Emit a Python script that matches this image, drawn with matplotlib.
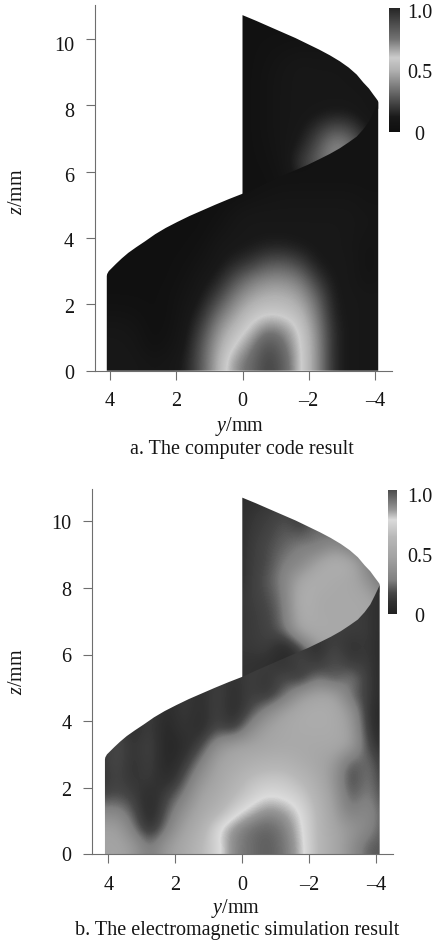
import numpy as np
import matplotlib
matplotlib.use('Agg')
import matplotlib.pyplot as plt
from matplotlib.colors import LinearSegmentedColormap
from matplotlib.patches import Polygon
from matplotlib.transforms import ScaledTranslation

plt.rcParams['font.family'] = ['Liberation Serif', 'DejaVu Serif']
plt.rcParams['mathtext.fontset'] = 'custom'
plt.rcParams['mathtext.rm'] = 'Liberation Serif'
plt.rcParams['mathtext.it'] = 'Liberation Serif:italic'

W, H = 433, 944
FS = 14.5
AXC = '#6e6e6e'
TXT = '#151515'

y_ticks = [4, 2, 0, -2, -4]
y_labels = ['4', '2', '0', '\u20132', '\u20134']
z_ticks = [0, 2, 4, 6, 8, 10]

# outline of the two sheets (mm)
edge_y = [4.1, 4.09, 4.04, 3.95, 3.82, 3.65, 3.45, 3.21, 2.94, 2.64, 2.32, 1.97, 1.6, 1.21, 0.82, 0.41, 0.0,
          -0.41, -0.82, -1.21, -1.6, -1.97, -2.32, -2.64, -2.94, -3.21, -3.45, -3.65, -3.82, -3.95, -4.04, -4.09, -4.1]
edge_z = [2.85, 2.91, 3.0, 3.09, 3.22, 3.38, 3.55, 3.72, 3.90, 4.11, 4.30, 4.48, 4.66, 4.83, 5.0, 5.17, 5.33,
          5.52, 5.70, 5.87, 6.04, 6.2, 6.37, 6.53, 6.7, 6.88, 7.05, 7.27, 7.5, 7.76, 7.95, 8.06, 8.1]
back_y = [0.0, -0.41, -0.82, -1.21, -1.6, -1.97, -2.32, -2.64, -2.94, -3.21, -3.45, -3.65, -3.82, -3.95, -4.04, -4.09, -4.1]
back_z = [10.71, 10.54, 10.36, 10.19, 10.02, 9.84, 9.67, 9.5, 9.32, 9.13, 8.92, 8.68, 8.5, 8.32, 8.2, 8.13, 8.1]

# colour bars: position on the bar, grey level
cbar_a_pos = [0, 0.12, 0.25, 0.5, 0.6, 0.75, 1.0]
cbar_a_gray = [0.06, 0.10, 0.30, 0.70, 0.80, 0.45, 0.15]
cbar_b_pos = [0, 0.10, 0.17, 0.27, 0.46, 0.62, 0.76, 0.84, 1.0]
cbar_b_gray = [0.13, 0.20, 0.28, 0.50, 0.64, 0.72, 0.86, 0.60, 0.30]

# front sheet: columns y = 4.25 ... -4.25, rows z = 0.25 ... 8.25
front_a = [
    [.10, .10, .10, .08, .09, .13, .28, .50, .70, .78, .92, .82, .60, .42, .15, .11, .10, .10],
    [.10, .10, .09, .03, .06, .11, .27, .47, .60, .72, .88, .77, .60, .42, .15, .11, .10, .10],
    [.09, .09, .07, .02, .04, .10, .22, .42, .53, .62, .75, .70, .58, .40, .15, .11, .10, .10],
    [.05, .05, .04, .02, .03, .09, .16, .33, .45, .55, .58, .57, .52, .36, .13, .11, .10, .10],
    [.02, .02, .02, .02, .03, .07, .12, .22, .37, .46, .50, .50, .45, .30, .12, .11, .10, .10],
    [.02, .02, .02, .02, .02, .05, .10, .14, .26, .36, .41, .41, .36, .20, .11, .11, .06, .09],
    [.02, .02, .02, .02, .02, .03, .07, .11, .15, .20, .27, .28, .22, .12, .11, .11, .05, .09],
    [.02, .02, .02, .02, .02, .02, .04, .10, .11, .12, .14, .14, .12, .11, .11, .10, .06, .08],
    [.02, .02, .02, .02, .02, .02, .02, .06, .10, .11, .11, .11, .11, .11, .11, .10, .08, .08],
    [.02, .02, .02, .02, .02, .02, .02, .03, .08, .10, .10, .10, .10, .10, .10, .10, .08, .08],
    [.02, .02, .02, .02, .02, .02, .02, .02, .03, .05, .07, .08, .08, .08, .08, .08, .06, .06],
    [.02, .02, .02, .02, .02, .02, .02, .02, .02, .03, .04, .05, .05, .05, .05, .05, .05, .05],
    [.02, .02, .02, .02, .02, .02, .02, .02, .02, .03, .03, .04, .04, .05, .05, .05, .05, .05],
    [.02, .02, .02, .02, .02, .02, .02, .02, .02, .03, .03, .03, .04, .04, .05, .05, .05, .05],
    [.02, .02, .02, .02, .02, .02, .02, .02, .02, .03, .03, .03, .03, .04, .04, .05, .05, .05],
    [.02, .02, .02, .02, .02, .02, .02, .02, .02, .03, .03, .03, .03, .04, .04, .05, .05, .05],
    [.02, .02, .02, .02, .02, .02, .02, .02, .02, .03, .03, .03, .03, .04, .04, .05, .05, .05],
]
front_b = [
    [.45, .48, .42, .24, .42, .50, .62, .72, .88, .93, .97, .92, .80, .62, .50, .36, .20, .20],
    [.45, .46, .27, .06, .27, .46, .55, .76, .86, .93, .96, .90, .78, .62, .48, .40, .32, .18],
    [.30, .33, .20, .03, .20, .38, .50, .58, .72, .80, .87, .84, .76, .62, .44, .26, .35, .18],
    [.15, .18, .15, .05, .15, .27, .46, .52, .62, .70, .76, .74, .70, .58, .42, .18, .30, .15],
    [.08, .17, .09, .14, .04, .18, .38, .48, .56, .65, .68, .68, .62, .53, .38, .14, .28, .12],
    [.10, .19, .08, .16, .02, .10, .27, .46, .50, .55, .58, .58, .53, .48, .42, .18, .26, .10],
    [.08, .20, .09, .17, .02, .06, .14, .36, .46, .46, .48, .50, .50, .50, .50, .46, .16, .06],
    [.10, .17, .06, .15, .02, .12, .05, .18, .10, .34, .46, .50, .52, .52, .52, .44, .12, .02],
    [.10, .17, .08, .16, .04, .14, .06, .16, .06, .17, .33, .46, .52, .54, .52, .40, .10, .01],
    [.10, .15, .10, .16, .06, .14, .07, .16, .07, .15, .10, .22, .42, .48, .48, .22, .14, .03],
    [.10, .15, .10, .16, .06, .14, .07, .15, .08, .15, .10, .19, .10, .27, .16, .29, .13, .04],
    [.12, .15, .15, .13, .10, .13, .15, .13, .13, .13, .14, .07, .18, .10, .21, .11, .14, .03],
    [.12, .15, .15, .13, .10, .13, .15, .13, .13, .13, .13, .14, .13, .07, .16, .08, .13, .03],
    [.12, .15, .15, .13, .10, .13, .15, .13, .13, .13, .13, .13, .14, .13, .14, .14, .13, .05],
    [.12, .15, .15, .13, .10, .13, .15, .13, .13, .13, .13, .13, .13, .13, .14, .13, .12, .05],
    [.12, .15, .15, .13, .10, .13, .15, .13, .13, .13, .13, .13, .13, .13, .13, .13, .12, .06],
    [.12, .15, .15, .13, .10, .13, .15, .13, .13, .13, .13, .13, .13, .13, .13, .13, .12, .06],
]

# back sheet: columns y = 0.25 ... -4.25, rows z = 5.25 ... 10.75
back_a = [
    [.03, .03, .03, .05, .08, .12, .16, .18, .12, .08],
    [.03, .03, .03, .06, .14, .22, .32, .36, .24, .08],
    [.03, .03, .04, .08, .20, .30, .38, .36, .22, .08],
    [.03, .03, .05, .09, .14, .26, .42, .36, .18, .08],
    [.03, .03, .06, .09, .11, .19, .28, .25, .12, .08],
    [.03, .03, .06, .09, .10, .11, .13, .12, .09, .08],
    [.03, .03, .06, .09, .10, .10, .10, .10, .09, .08],
    [.03, .03, .06, .09, .10, .10, .10, .09, .08, .08],
    [.03, .03, .05, .08, .10, .09, .09, .08, .08, .08],
    [.03, .03, .04, .05, .06, .06, .06, .06, .06, .06],
    [.03, .03, .03, .03, .03, .03, .04, .05, .05, .05],
    [.03, .03, .03, .03, .03, .03, .03, .03, .03, .03],
]
back_b = [
    [.10, .10, .08, .05, .06, .10, .20, .30, .20, .10],
    [.10, .10, .08, .04, .08, .20, .40, .50, .30, .12],
    [.12, .12, .15, .03, .18, .44, .50, .50, .40, .20],
    [.10, .13, .15, .24, .50, .52, .50, .50, .48, .30],
    [.10, .13, .16, .25, .56, .50, .50, .50, .50, .45],
    [.10, .14, .18, .27, .58, .50, .50, .50, .48, .30],
    [.06, .14, .20, .30, .50, .56, .50, .50, .36, .18],
    [.06, .14, .17, .28, .30, .48, .58, .52, .27, .11],
    [.06, .13, .18, .22, .29, .24, .36, .23, .18, .08],
    [.06, .12, .15, .21, .15, .27, .17, .20, .08, .06],
    [.06, .11, .13, .17, .12, .18, .10, .12, .06, .06],
    [.06, .07, .10, .10, .10, .10, .10, .08, .06, .06],
]


def px_text(x, y, s, **kw):
    # position in pixels of the image, from the top left
    return fig.text(x / W, 1 - y / H, s, ha='center', va='center', fontsize=FS, color=TXT, **kw)


def draw_panel(left, right, top, bottom, y0_px, y_scale, z_scale, front, back, cmap, z_shift):
    ax = fig.add_axes([left / W, 1 - bottom / H, (right - left) / W, (bottom - top) / H])

    # back sheet first, its lower edge runs under the front sheet
    im = ax.imshow(np.array(back), origin='lower', extent=[0.5, -4.5, 5, 11], aspect='auto', cmap=cmap,
                   vmin=0, vmax=1, interpolation='bicubic', interpolation_stage='data')
    under = [(y, z - 0.2) for y, z in zip(edge_y[::-1], edge_z[::-1]) if y <= 0]
    poly = Polygon(list(zip(back_y, back_z)) + under, closed=True, transform=ax.transData, fc='none', ec='none')
    ax.add_patch(poly)
    im.set_clip_path(poly)

    im = ax.imshow(np.array(front), origin='lower', extent=[4.5, -4.5, 0, 8.5], aspect='auto', cmap=cmap,
                   vmin=0, vmax=1, interpolation='bicubic', interpolation_stage='data')
    poly = Polygon([(edge_y[0], 0)] + list(zip(edge_y, edge_z)) + [(edge_y[-1], 0)],
                   closed=True, transform=ax.transData, fc='none', ec='none')
    ax.add_patch(poly)
    im.set_clip_path(poly)

    ax.set_xlim((y0_px - left) / y_scale, (y0_px - right) / y_scale)
    ax.set_ylim(0, (bottom - top) / z_scale)
    ax.set_aspect('auto')

    ax.spines['top'].set_visible(False)
    ax.spines['right'].set_visible(False)
    ax.spines['left'].set_color(AXC)
    ax.spines['bottom'].set_color(AXC)
    ax.set_xticks(y_ticks, y_labels)
    ax.set_yticks(z_ticks, [str(z) for z in z_ticks])
    ax.tick_params(axis='both', length=6.8, width=0.8, color=AXC, labelsize=FS, labelcolor=TXT)
    ax.tick_params(axis='x', pad=8.5)
    ax.tick_params(axis='y', pad=8)
    for lab, s in zip(ax.get_yticklabels(), z_shift):
        lab.set_transform(lab.get_transform() + ScaledTranslation(0, -s / 100, fig.dpi_scale_trans))
    return ax


def draw_cbar(x0, x1, y0, y1, cmap, label_x, label_y):
    cax = fig.add_axes([x0 / W, 1 - y1 / H, (x1 - x0) / W, (y1 - y0) / H])
    cax.imshow(np.linspace(1, 0, 256).reshape(-1, 1), aspect='auto', cmap=cmap, vmin=0, vmax=1)
    cax.axis('off')
    for s, x, y in zip(['1.0', '0.5', '0'], label_x, label_y):
        px_text(x, y, s)


cmap_a = LinearSegmentedColormap.from_list('a', [(p, (g, g, g)) for p, g in zip(cbar_a_pos, cbar_a_gray)])
cmap_b = LinearSegmentedColormap.from_list('b', [(p, (g, g, g)) for p, g in zip(cbar_b_pos, cbar_b_gray)])

fig = plt.figure(figsize=(W / 100, H / 100), dpi=100)

draw_panel(94.5, 392, 5, 370.7, 242.5, 33.1, 33.2, front_a, back_a, cmap_a, [1.5, 1.5, 2, 4, 5, 5])
draw_cbar(389, 399.5, 8, 132, cmap_a, [420, 420, 419], [14, 73, 135])
px_text(18, 192, '$\\mathit{z}$/mm', rotation=90)
px_text(240, 426, '$\\mathit{y}$/mm')
px_text(241.5, 450, 'a. The computer code result')

draw_panel(92.3, 393, 489, 854.3, 242.3, 33.5, 33.3, front_b, back_b, cmap_b, [0, 1, 1, 1, 1, 1])
draw_cbar(387.7, 396, 490, 614, cmap_b, [420, 420, 419], [497, 557, 617])
px_text(18, 672, '$\\mathit{z}$/mm', rotation=90)
px_text(236, 909, '$\\mathit{y}$/mm')
px_text(237, 931, 'b. The electromagnetic simulation result')

fig.savefig('out.png', dpi=100)
